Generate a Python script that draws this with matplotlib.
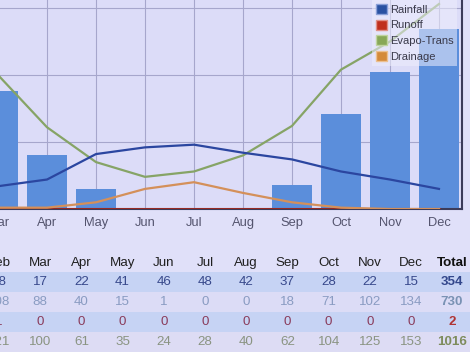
import matplotlib
matplotlib.use('Agg')
import matplotlib.pyplot as plt
from matplotlib.patches import Patch, Rectangle

months = ['Jan', 'Feb', 'Mar', 'Apr', 'May', 'Jun', 'Jul', 'Aug', 'Sep', 'Oct', 'Nov', 'Dec']
rainfall = [18, 18, 17, 22, 41, 46, 48, 42, 37, 28, 22, 15]
deficit = [153, 108, 88, 40, 15, 1, 0, 0, 18, 71, 102, 134]
runoff = [1, 1, 0, 0, 0, 0, 0, 0, 0, 0, 0, 0]
evapo = [163, 121, 100, 61, 35, 24, 28, 40, 62, 104, 125, 153]
drainage = [0, 1, 1, 1, 5, 15, 20, 12, 5, 1, 0, 0]

plt.rcParams['font.family'] = ['Liberation Sans', 'DejaVu Sans']

W, H = 470, 352
fig = plt.figure(figsize=(W / 100, H / 100), dpi=100)
fig.patch.set_facecolor('#e0e0f9')

# plot area is wider than the picture: Jan/Feb lie off the left edge
ax = fig.add_axes([-123 / W, 143 / H, 585 / W, 268 / H])
ax.set_facecolor('#dcdcf8')
x = list(range(len(months)))

ax.bar(x, deficit, width=0.8, color='#5b8edb', zorder=2)
ax.plot(x, runoff, color='#a3281e', lw=2, zorder=3)
ax.plot(x, drainage, color='#d4905a', lw=1.6, zorder=3)
ax.plot(x, evapo, color='#86a466', lw=1.6, zorder=3)
ax.plot(x, rainfall, color='#2b46a0', lw=1.6, zorder=4)

ax.set_xlim(-0.47, 11.47)
ax.set_ylim(0, 200)
ax.set_xticks(x)
ax.set_xticklabels(months, fontsize=9.3, color='#54546e')
ax.set_yticks([0, 50, 100, 150, 200])
ax.tick_params(axis='x', length=0, pad=6)
ax.tick_params(axis='y', length=0, labelleft=False)
ax.grid(color='#a6a6cc', lw=0.8, zorder=0)
ax.set_axisbelow(True)
for s in ['top', 'left']:
    ax.spines[s].set_visible(False)
for s in ['right', 'bottom']:
    ax.spines[s].set_color('#3c3c5a')
    ax.spines[s].set_linewidth(1.5)

handles = [Patch(facecolor='#2a52a2', edgecolor='#8aa0d8', label='Rainfall'),
           Patch(facecolor='#c0301e', edgecolor='#e09088', label='Runoff'),
           Patch(facecolor='#88a858', edgecolor='#c0d4a0', label='Evapo-Trans'),
           Patch(facecolor='#d48a3a', edgecolor='#ecc090', label='Drainage')]
leg = fig.legend(handles=handles, loc='upper left', bbox_to_anchor=(372 / W, 1.0),
                 bbox_transform=fig.transFigure, fontsize=8, handlelength=1.0,
                 handleheight=1.0, handletextpad=0.25, labelspacing=0.45,
                 borderpad=0.35, borderaxespad=0, fancybox=False)
leg.get_frame().set_facecolor('#eeeefc')
leg.get_frame().set_alpha(0.55)
leg.get_frame().set_edgecolor('none')
for t in leg.get_texts():
    t.set_color('#3a3a4a')

# table under the chart
rows = [rainfall, deficit, runoff, evapo]
row_colors = ['#38498c', '#8a9cc2', '#8a3c5c', '#8a9482']
total_colors = ['#33478c', '#7a92b4', '#b03434', '#7e8c5c']
band_colors = ['#c6d3f4', '#dcdcf6', '#c6d3f4', '#dddcf4']


def fx(px):
    return px / W


def fy(py):
    return 1 - py / H


for r, c in enumerate(band_colors):
    fig.patches.append(Rectangle((0, fy(292 + 20 * r)), 1, 20 / H,
                                 transform=fig.transFigure, facecolor=c,
                                 edgecolor='none', zorder=0))

colx = [-1 + (j - 1) * 41.2 for j in range(len(months))]
for j, m in enumerate(months):
    fig.text(fx(colx[j]), fy(263), m, ha='center', va='center',
             fontsize=9.6, color='#202020')
fig.text(fx(452), fy(263), 'Total', ha='center', va='center',
         fontsize=9.6, color='#101010', weight='bold')

for r, vals in enumerate(rows):
    yy = fy(282 + 20 * r)
    for j, v in enumerate(vals):
        fig.text(fx(colx[j]), yy, str(v), ha='center', va='center',
                 fontsize=9.6, color=row_colors[r])
    fig.text(fx(452), yy, str(sum(vals)), ha='center', va='center',
             fontsize=9.6, color=total_colors[r], weight='bold')

fig.savefig('out.png', dpi=100, facecolor=fig.get_facecolor())
